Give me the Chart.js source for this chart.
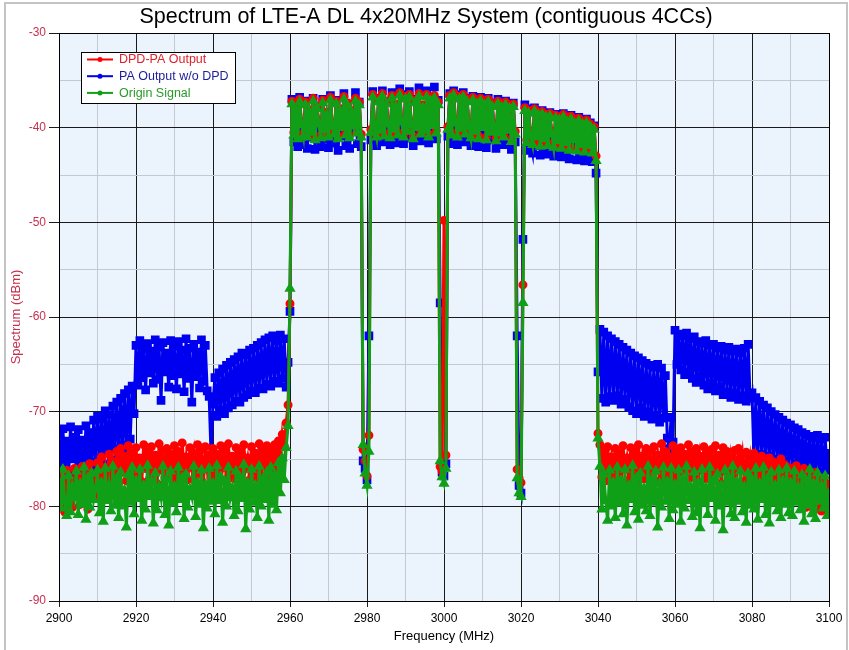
<!DOCTYPE html>
<html>
<head>
<meta charset="utf-8">
<title>Spectrum of LTE-A DL 4x20MHz System</title>
<script src="https://cdn.jsdelivr.net/npm/chart.js@4.4.1/dist/chart.umd.min.js"></script>
<style>
  html, body { margin: 0; padding: 0; background: #fff; }
  #wrap { width: 849px; height: 650px; }
</style>
</head>
<body>
<div id="wrap"><canvas id="spectrum" width="849" height="650"></canvas></div>
<script>
  const chartTitle = 'Spectrum of LTE-A DL 4x20MHz System (contiguous 4CCs)'

  // Frequency grid: one sample every 0.5 MHz, 2900 .. 3100
  const freqStart = 2900
  const freqStep = 0.5

  // Tick labels
  const xTicks = [2900, 2920, 2940, 2960, 2980, 3000, 3020, 3040, 3060, 3080, 3100]
  const yTicks = [-90, -80, -70, -60, -50, -40, -30]

  // DPD-PA Output (dBm), one row per 5 MHz
  const dpdPaOutput = [
    -76.6, -79.3, -77.8, -80.6, -76.2, -78.9, -77.4, -80.1, -76.0, -78.4, // 2900
    -77.1, -79.8, -75.8, -78.6, -76.7, -80.3, -75.5, -78.0, -76.9, -79.0, // 2905
    -75.4, -77.9, -74.8, -77.2, -75.9, -78.5, -74.5, -77.0, -75.3, -76.8, // 2910
    -74.2, -77.5, -73.9, -76.4, -74.7, -77.3, -73.6, -76.1, -74.4, -77.6, // 2915
    -73.8, -76.6, -74.9, -77.4, -73.5, -76.0, -74.3, -77.1, -73.7, -76.5, // 2920
    -74.6, -77.6, -73.4, -76.2, -74.1, -77.0, -73.9, -75.8, -74.5, -77.3, // 2925
    -73.6, -76.7, -74.2, -77.5, -73.3, -76.3, -74.8, -77.2, -73.8, -75.9, // 2930
    -74.4, -77.4, -73.5, -76.6, -74.0, -77.8, -73.7, -76.1, -74.6, -77.0, // 2935
    -73.9, -76.4, -74.5, -77.3, -73.6, -75.9, -74.1, -77.6, -73.4, -76.8, // 2940
    -74.7, -77.1, -73.8, -76.5, -74.3, -77.5, -73.5, -76.0, -74.9, -77.2, // 2945
    -73.7, -76.3, -74.4, -77.0, -73.4, -76.7, -74.0, -75.8, -73.6, -77.1, // 2950
    -74.2, -76.4, -73.5, -75.9, -73.1, -75.2, -72.4, -73.6, -71.2, -69.3, // 2955
    -58.6, -37.2, -40.5, -37.8, -40.9, -37.0, -39.4, -40.6, -37.3, -40.7, // 2960
    -38.1, -40.2, -36.9, -41.0, -37.7, -39.3, -40.8, -37.1, -39.9, -38.4, // 2965
    -40.7, -36.8, -39.6, -40.4, -37.2, -40.9, -38.0, -39.7, -36.7, -40.5, // 2970
    -37.4, -40.8, -38.2, -39.5, -36.9, -40.3, -37.3, -40.7, -74.0, -75.2, // 2975
    -76.8, -72.5, -40.2, -36.5, -39.6, -40.7, -37.0, -40.0, -36.4, -40.6, // 2980
    -37.2, -39.3, -40.8, -36.6, -39.9, -37.5, -40.5, -36.3, -39.1, -40.7, // 2985
    -36.7, -40.1, -36.5, -39.4, -40.9, -37.1, -39.7, -36.4, -40.4, -37.6, // 2990
    -40.0, -36.5, -40.7, -36.9, -39.5, -36.6, -40.3, -37.3, -75.8, -76.3, // 2995
    -49.8, -74.6, -39.9, -36.6, -40.5, -36.3, -39.2, -40.7, -36.7, -39.8, // 3000
    -36.5, -40.4, -37.0, -39.6, -40.8, -36.8, -40.1, -37.2, -40.9, -36.9, // 3005
    -39.7, -37.3, -41.0, -37.0, -40.2, -37.5, -39.6, -41.1, -37.2, -40.3, // 3010
    -37.6, -40.7, -37.3, -40.0, -37.7, -41.2, -37.5, -40.4, -76.1, -77.0, // 3015
    -77.5, -56.6, -37.9, -41.3, -38.2, -40.6, -41.5, -38.0, -40.7, -38.4, // 3020
    -41.7, -38.3, -40.9, -38.6, -41.6, -38.5, -40.4, -41.8, -38.7, -41.1, // 3025
    -38.9, -41.9, -38.6, -41.3, -39.1, -42.1, -38.8, -41.0, -39.3, -42.2, // 3030
    -39.0, -41.5, -39.4, -42.3, -39.2, -41.6, -39.6, -42.4, -39.9, -43.0, // 3035
    -72.3, -73.5, -76.9, -74.2, -77.3, -73.7, -76.4, -74.8, -77.0, -73.9, // 3040
    -76.6, -74.4, -77.5, -73.6, -76.1, -74.9, -77.2, -73.8, -76.7, -74.3, // 3045
    -77.4, -73.5, -76.3, -74.7, -77.1, -73.9, -76.8, -74.1, -77.6, -73.7, // 3050
    -76.2, -74.6, -77.3, -73.4, -76.9, -74.2, -77.0, -74.8, -76.5, -73.6, // 3055
    -77.2, -74.0, -76.4, -73.8, -77.5, -74.5, -76.1, -73.5, -77.0, -74.3, // 3060
    -76.6, -73.9, -77.4, -74.7, -76.2, -73.7, -77.1, -74.4, -76.8, -74.0, // 3065
    -77.3, -73.6, -76.5, -74.6, -77.6, -73.8, -76.3, -74.2, -77.2, -74.9, // 3070
    -76.7, -74.1, -77.5, -73.9, -76.0, -74.5, -77.4, -74.3, -76.6, -75.0, // 3075
    -77.6, -74.4, -78.1, -75.1, -77.3, -74.7, -78.4, -75.4, -77.8, -74.9, // 3080
    -78.2, -75.3, -77.7, -75.8, -78.6, -75.0, -78.0, -75.6, -79.1, -75.9, // 3085
    -78.5, -76.2, -79.3, -75.7, -78.9, -76.5, -79.6, -76.0, -80.1, -76.6, // 3090
    -79.4, -76.9, -80.3, -76.4, -79.8, -77.2, -80.5, -77.0, -80.2, -77.6, // 3095
    -80.6 // 3100
  ]

  // PA Output w/o DPD (dBm)
  const paOutputNoDpd = [
    -72.4, -76.2, -71.8, -75.5, -73.1, -76.7, -71.6, -75.0, -72.7, -76.4, // 2900
    -71.9, -75.6, -73.0, -76.1, -71.5, -74.8, -72.2, -75.9, -70.9, -75.3, // 2905
    -70.5, -74.9, -70.8, -75.6, -69.9, -74.2, -70.3, -75.1, -69.4, -73.9, // 2910
    -69.0, -74.6, -68.6, -73.5, -68.1, -74.3, -67.7, -72.9, -67.3, -70.2, // 2915
    -63.0, -67.2, -62.5, -66.4, -63.4, -67.7, -62.8, -65.9, -63.6, -67.0, // 2920
    -62.4, -66.6, -63.2, -68.8, -62.7, -65.8, -63.8, -67.4, -62.5, -66.2, // 2925
    -63.1, -67.6, -62.6, -66.0, -63.5, -67.9, -62.3, -66.5, -63.3, -69.0, // 2930
    -62.9, -66.3, -63.7, -67.5, -62.4, -66.8, -63.0, -67.8, -68.4, -74.6, // 2935
    -69.2, -66.4, -70.5, -65.9, -69.8, -65.5, -70.2, -65.1, -69.6, -64.8, // 2940
    -69.3, -64.5, -68.9, -64.2, -69.0, -63.8, -68.5, -64.0, -68.2, -63.5, // 2945
    -67.8, -63.3, -68.0, -63.0, -67.5, -62.7, -67.6, -62.4, -67.1, -62.2, // 2950
    -67.3, -62.0, -66.8, -62.5, -67.0, -61.9, -66.5, -62.3, -67.4, -64.8, // 2955
    -59.4, -37.0, -41.5, -37.9, -42.0, -36.8, -40.3, -41.8, -37.2, -42.2, // 2960
    -38.3, -41.0, -36.9, -42.3, -37.8, -40.1, -42.0, -37.0, -41.2, -38.5, // 2965
    -42.1, -36.6, -40.6, -41.6, -37.1, -42.4, -38.2, -40.9, -36.4, -41.9, // 2970
    -37.5, -42.2, -38.6, -40.4, -36.3, -41.7, -37.3, -42.0, -75.2, -76.0, // 2975
    -77.2, -62.0, -41.3, -36.2, -40.6, -41.9, -36.9, -41.0, -36.1, -41.5, // 2980
    -37.2, -40.3, -41.8, -36.3, -40.9, -37.6, -41.6, -35.9, -40.2, -41.7, // 2985
    -36.5, -41.1, -36.2, -40.5, -41.9, -37.0, -40.8, -35.8, -41.4, -37.7, // 2990
    -41.0, -36.1, -41.6, -36.8, -40.4, -35.7, -41.2, -37.1, -58.5, -76.4, // 2995
    -76.8, -75.5, -40.9, -36.4, -41.7, -36.1, -40.2, -41.8, -36.5, -40.9, // 3000
    -36.3, -41.5, -36.9, -40.6, -41.9, -36.7, -41.2, -37.0, -42.0, -36.8, // 3005
    -40.8, -37.1, -42.1, -36.9, -41.3, -37.4, -40.7, -42.2, -37.0, -41.4, // 3010
    -37.5, -41.8, -37.2, -41.0, -37.6, -42.3, -37.4, -41.5, -62.0, -77.8, // 3015
    -78.6, -51.8, -37.6, -42.4, -38.0, -41.7, -42.7, -37.9, -41.9, -38.3, // 3020
    -42.9, -38.2, -42.0, -38.5, -42.8, -38.4, -41.6, -43.0, -38.6, -42.3, // 3025
    -38.8, -43.1, -38.5, -42.5, -39.0, -43.3, -38.7, -42.2, -39.2, -43.4, // 3030
    -38.9, -42.7, -39.3, -43.5, -39.1, -42.8, -39.5, -43.6, -39.8, -44.8, // 3035
    -65.8, -61.3, -68.6, -61.6, -69.0, -62.0, -68.4, -62.3, -68.8, -62.6, // 3040
    -68.3, -62.9, -69.2, -63.2, -68.7, -63.5, -69.5, -63.8, -69.9, -64.1, // 3045
    -70.2, -64.3, -69.6, -64.6, -70.5, -64.9, -70.0, -65.1, -70.8, -65.3, // 3050
    -70.4, -65.0, -71.1, -65.4, -70.7, -66.2, -72.8, -73.9, -70.6, -73.2, // 3055
    -61.4, -65.0, -61.8, -65.6, -62.0, -66.1, -61.7, -65.8, -62.3, -66.5, // 3060
    -62.1, -66.9, -62.6, -66.3, -62.8, -67.2, -62.5, -67.6, -63.0, -67.0, // 3065
    -62.9, -67.8, -63.3, -67.4, -63.1, -68.2, -63.5, -67.9, -63.2, -68.5, // 3070
    -63.6, -68.0, -63.4, -68.7, -63.8, -68.3, -63.3, -68.9, -62.9, -68.6, // 3075
    -68.0, -74.8, -68.5, -75.1, -68.9, -74.5, -69.3, -75.3, -69.6, -74.7, // 3080
    -70.0, -75.4, -70.3, -75.0, -70.6, -75.8, -70.9, -75.2, -71.2, -75.9, // 3085
    -71.4, -76.0, -71.7, -75.5, -71.9, -76.3, -72.2, -75.7, -72.4, -76.5, // 3090
    -72.6, -76.1, -72.8, -76.6, -72.5, -76.4, -72.9, -76.8, -72.7, -76.2, // 3095
    -74.4 // 3100
  ]

  // Origin Signal (dBm)
  const originSignal = [
    -77.4, -80.2, -76.1, -79.5, -81.0, -76.8, -80.6, -77.9, -79.1, -76.3, // 2900
    -80.9, -77.6, -79.8, -75.9, -81.4, -77.0, -80.1, -76.5, -79.3, -78.2, // 2905
    -76.2, -80.7, -77.5, -81.6, -76.0, -79.4, -77.8, -80.5, -75.8, -79.9, // 2910
    -77.1, -81.2, -76.4, -80.0, -78.3, -82.2, -76.7, -79.6, -75.9, -80.8, // 2915
    -77.3, -79.2, -76.1, -81.5, -77.8, -80.3, -75.7, -79.0, -77.4, -81.8, // 2920
    -76.5, -80.4, -78.0, -79.1, -75.8, -80.9, -77.2, -82.0, -76.3, -79.7, // 2925
    -77.9, -80.6, -75.9, -79.3, -77.0, -81.3, -76.6, -80.1, -78.2, -79.0, // 2930
    -75.8, -81.1, -77.5, -79.8, -76.2, -82.3, -77.7, -80.2, -76.0, -79.5, // 2935
    -77.6, -80.8, -75.7, -79.4, -76.9, -81.7, -77.3, -80.0, -75.9, -79.1, // 2940
    -78.1, -81.0, -76.3, -80.5, -77.0, -79.2, -75.6, -82.4, -77.5, -80.3, // 2945
    -76.1, -79.6, -77.8, -81.2, -75.8, -80.0, -77.1, -79.3, -76.4, -81.5, // 2950
    -75.9, -79.8, -76.7, -80.4, -75.4, -78.6, -74.9, -77.2, -73.8, -71.5, // 2955
    -57.0, -37.5, -40.8, -38.1, -41.2, -37.3, -39.7, -40.9, -37.6, -41.0, // 2960
    -38.4, -40.5, -37.2, -41.3, -38.0, -39.6, -41.1, -37.4, -40.2, -38.7, // 2965
    -41.0, -37.1, -39.9, -40.7, -37.5, -41.2, -38.3, -40.0, -37.0, -40.8, // 2970
    -37.7, -41.1, -38.5, -39.8, -37.2, -40.6, -37.6, -41.0, -73.5, -76.5, // 2975
    -77.8, -74.2, -40.5, -36.8, -39.9, -41.0, -37.3, -40.3, -36.7, -40.9, // 2980
    -37.5, -39.6, -41.1, -36.9, -40.2, -37.8, -40.8, -36.6, -39.4, -41.0, // 2985
    -37.0, -40.4, -36.8, -39.7, -41.2, -37.4, -40.0, -36.7, -40.7, -37.9, // 2990
    -40.3, -36.8, -41.0, -37.2, -39.8, -36.9, -40.6, -37.6, -75.2, -76.9, // 2995
    -77.6, -76.0, -40.2, -36.9, -40.8, -36.6, -39.5, -41.0, -37.0, -40.1, // 3000
    -36.8, -40.7, -37.3, -39.9, -41.1, -37.1, -40.4, -37.5, -41.2, -37.2, // 3005
    -40.0, -37.6, -41.3, -37.3, -40.5, -37.8, -39.9, -41.4, -37.5, -40.6, // 3010
    -37.9, -41.0, -37.6, -40.3, -38.0, -41.5, -37.8, -40.7, -77.0, -78.6, // 3015
    -79.0, -58.5, -38.2, -41.6, -38.5, -40.9, -41.8, -38.3, -41.0, -38.7, // 3020
    -42.0, -38.6, -41.2, -38.9, -41.9, -38.8, -40.7, -42.1, -39.0, -41.4, // 3025
    -39.2, -42.2, -38.9, -41.6, -39.4, -42.4, -39.1, -41.3, -39.6, -42.5, // 3030
    -39.3, -41.8, -39.7, -42.6, -39.5, -41.9, -39.9, -42.7, -40.2, -43.5, // 3035
    -72.8, -75.8, -80.3, -76.6, -79.4, -81.5, -76.2, -80.0, -77.5, -81.2, // 3040
    -75.9, -79.7, -77.3, -80.8, -76.1, -82.0, -77.8, -79.3, -75.7, -80.6, // 3045
    -77.0, -81.4, -76.5, -79.9, -78.1, -80.5, -75.8, -81.0, -77.2, -79.6, // 3050
    -76.3, -82.2, -77.6, -80.1, -75.9, -79.5, -77.4, -81.3, -76.0, -80.4, // 3055
    -77.7, -79.8, -76.2, -81.6, -77.1, -80.2, -75.8, -79.4, -77.9, -81.1, // 3060
    -76.4, -80.7, -77.5, -82.3, -76.1, -79.7, -78.0, -80.9, -75.9, -79.2, // 3065
    -77.3, -81.5, -76.6, -80.0, -77.8, -82.5, -76.2, -79.6, -77.0, -80.8, // 3070
    -75.8, -81.2, -77.4, -79.5, -76.3, -80.6, -77.9, -81.7, -76.5, -79.9, // 3075
    -77.2, -80.3, -76.0, -81.4, -77.6, -79.3, -75.9, -80.9, -77.1, -81.8, // 3080
    -76.4, -79.7, -77.8, -80.5, -76.2, -81.2, -77.3, -79.8, -76.0, -80.7, // 3085
    -77.5, -81.0, -76.3, -79.6, -78.0, -80.4, -76.7, -81.6, -77.2, -79.9, // 3090
    -76.1, -80.8, -77.6, -81.3, -76.5, -79.5, -77.9, -80.2, -76.8, -81.0, // 3095
    -78.6 // 3100
  ]

  const freqMHz = originSignal.map((v, i) => freqStart + i * freqStep)
  const toPoints = vals => vals.map((y, i) => ({ x: freqMHz[i], y }))

  const fontFamily = '"Liberation Sans", Arial, sans-serif'
  const tickRed = '#c8304e'

  // page background, outer frame, title, plot background and plot border
  const chartFrame = {
    id: 'chartFrame',
    beforeDraw (chart) {
      const { ctx, chartArea: a } = chart
      ctx.save()
      ctx.fillStyle = '#fff'
      ctx.fillRect(0, 0, chart.width, chart.height)
      ctx.strokeStyle = '#c4c4c4'
      ctx.lineWidth = 2
      ctx.strokeRect(5, 3, 842, 662)
      ctx.fillStyle = '#ebf3fc'
      ctx.fillRect(a.left, a.top, a.right - a.left, a.bottom - a.top)
      ctx.fillStyle = '#000'
      ctx.font = '21.5px ' + fontFamily
      ctx.textAlign = 'center'
      ctx.textBaseline = 'middle'
      ctx.fillText(chartTitle, 426, 17)
      ctx.restore()
    },
    afterDatasetsDraw (chart) {
      const { ctx, chartArea: a } = chart
      ctx.save()
      ctx.strokeStyle = '#000'
      ctx.lineWidth = 1
      ctx.strokeRect(Math.round(a.left) + 0.5, Math.round(a.top) + 0.5,
        Math.round(a.right - a.left), Math.round(a.bottom - a.top))
      ctx.restore()
    }
  }

  // boxed legend inside the plot, top left
  const boxLegend = {
    id: 'boxLegend',
    afterDraw (chart) {
      const { ctx } = chart
      const x0 = 81
      const y0 = 52
      ctx.save()
      ctx.fillStyle = '#fff'
      ctx.fillRect(x0, y0, 154, 51)
      ctx.strokeStyle = '#000'
      ctx.lineWidth = 1
      ctx.strokeRect(x0 + 0.5, y0 + 0.5, 154, 51)
      ctx.font = '12.5px ' + fontFamily
      ctx.textBaseline = 'middle'
      chart.data.datasets.forEach((ds, i) => {
        const y = y0 + 7.5 + i * 16.7
        ctx.strokeStyle = ds.borderColor
        ctx.lineWidth = 2
        ctx.beginPath()
        ctx.moveTo(x0 + 6, y)
        ctx.lineTo(x0 + 32, y)
        ctx.stroke()
        ctx.fillStyle = ds.borderColor
        ctx.beginPath()
        ctx.arc(x0 + 19, y, 2.5, 0, Math.PI * 2)
        ctx.fill()
        ctx.fillStyle = ds.labelColor
        ctx.fillText(ds.label, x0 + 38, y + 0.5)
      })
      ctx.restore()
    }
  }

  const ctx = document.getElementById('spectrum').getContext('2d')
  const spectrumChart = new Chart(ctx, {
    type: 'line',
    data: {
      datasets: [
        {
          label: 'DPD-PA Output',
          data: toPoints(dpdPaOutput),
          borderColor: '#ff0000',
          backgroundColor: '#ff0000',
          labelColor: '#e0202a',
          pointStyle: 'circle',
          pointRadius: 3,
          borderWidth: 3,
          order: 1
        },
        {
          label: 'PA Output w/o DPD',
          data: toPoints(paOutputNoDpd),
          borderColor: '#0000f0',
          backgroundColor: '#0000f0',
          labelColor: '#1c1c9c',
          pointStyle: 'rect',
          pointRadius: 4,
          borderWidth: 3,
          order: 2
        },
        {
          label: 'Origin Signal',
          data: toPoints(originSignal),
          borderColor: '#10a018',
          backgroundColor: '#10a018',
          labelColor: '#2a9a2a',
          pointStyle: 'triangle',
          pointRadius: 3.5,
          borderWidth: 3,
          order: 0
        }
      ]
    },
    options: {
      responsive: false,
      animation: false,
      devicePixelRatio: 1,
      layout: { padding: { left: 0, right: 20, top: 33, bottom: 0 } },
      elements: {
        line: { tension: 0 },
        point: { borderWidth: 0, hoverRadius: 3 }
      },
      plugins: {
        legend: { display: false },
        tooltip: { enabled: false },
        title: { display: false }
      },
      scales: {
        x: {
          type: 'linear',
          min: 2900,
          max: 3100,
          afterFit: scale => { scale.height = 49 },
          ticks: {
            stepSize: 10,
            autoSkip: false,
            maxRotation: 0,
            padding: 4,
            color: '#000',
            font: { family: fontFamily, size: 12 },
            callback: v => (xTicks.includes(v) ? String(v) : '')
          },
          grid: {
            color: c => (xTicks.includes(c.tick.value) ? '#1a1a1a' : '#c3c9d2'),
            tickColor: c => (xTicks.includes(c.tick.value) ? '#1a1a1a' : 'rgba(0,0,0,0)'),
            tickLength: 6
          },
          border: { color: '#000' },
          title: {
            display: true,
            text: 'Frequency (MHz)',
            color: '#000',
            font: { family: fontFamily, size: 13 },
            padding: { top: 0, bottom: 6 }
          }
        },
        y: {
          min: -90,
          max: -30,
          afterFit: scale => { scale.width = 59 },
          ticks: {
            stepSize: 5,
            autoSkip: false,
            padding: 3,
            color: tickRed,
            font: { family: fontFamily, size: 12 },
            callback: v => (yTicks.includes(v) ? String(v) : '')
          },
          grid: {
            color: c => (yTicks.includes(c.tick.value) ? '#1a1a1a' : '#c3c9d2'),
            tickColor: c => (yTicks.includes(c.tick.value) ? '#1a1a1a' : 'rgba(0,0,0,0)'),
            tickLength: 10
          },
          border: { color: '#000' },
          title: {
            display: true,
            text: 'Spectrum (dBm)',
            color: tickRed,
            font: { family: fontFamily, size: 13 },
            padding: { top: 9, bottom: 0 }
          }
        }
      }
    },
    plugins: [chartFrame, boxLegend]
  })
</script>
</body>
</html>
